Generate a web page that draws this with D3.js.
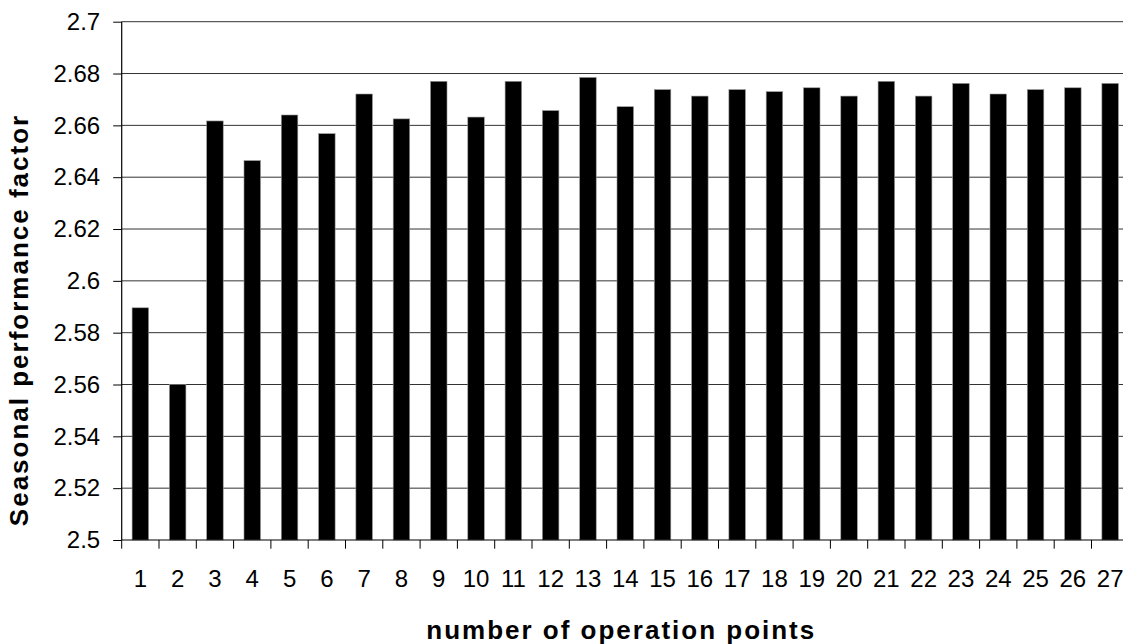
<!DOCTYPE html>
<html>
<head>
<meta charset="utf-8">
<script src="https://cdn.jsdelivr.net/npm/d3@7"></script>
<style>
  html, body { margin: 0; padding: 0; background: #fff; }
  svg { display: block; }
  text { font-family: Arial, "Liberation Sans", sans-serif; fill: #000; }
</style>
</head>
<body>
<svg id="chart" width="1123" height="644"></svg>
<script>
// ---- data ----
const categories = ["1","2","3","4","5","6","7","8","9","10","11","12","13","14","15","16","17","18","19","20","21","22","23","24","25","26","27"];
const spfValues = [2.5896, 2.5600, 2.6617, 2.6464, 2.6640, 2.6568, 2.6721, 2.6625, 2.6770, 2.6632,
                   2.6770, 2.6657, 2.6785, 2.6672, 2.6738, 2.6713, 2.6738, 2.6730, 2.6745, 2.6713,
                   2.6770, 2.6713, 2.6762, 2.6721, 2.6738, 2.6745, 2.6762];
const yTickValues = [2.5, 2.52, 2.54, 2.56, 2.58, 2.6, 2.62, 2.64, 2.66, 2.68, 2.7];
const yTickLabels = ["2.5", "2.52", "2.54", "2.56", "2.58", "2.6", "2.62", "2.64", "2.66", "2.68", "2.7"];
const xTitle = "number of operation points";
const yTitle = "Seasonal performance factor";

// ---- layout ----
const svg = d3.select("#chart");
const plotLeft = 121.7, plotRight = 1128.8, plotTop = 21.7, plotBottom = 540;

const x = d3.scaleBand().domain(categories).range([plotLeft, plotRight])
  .paddingInner(0.557).paddingOuter(0.2785);
const y = d3.scaleLinear().domain([2.5, 2.7]).range([plotBottom, plotTop]);

// gridlines
svg.append("g").selectAll("line").data(yTickValues.filter(v => v > 2.5)).join("line")
  .attr("x1", plotLeft).attr("x2", plotRight)
  .attr("y1", d => y(d)).attr("y2", d => y(d))
  .attr("stroke", "#333").attr("stroke-width", 1);

// bars
svg.append("g").selectAll("rect").data(spfValues).join("rect")
  .attr("x", (d, i) => x(categories[i]))
  .attr("width", x.bandwidth())
  .attr("y", d => y(d))
  .attr("height", d => plotBottom - y(d))
  .attr("fill", "#000")
  .attr("stroke", "#999").attr("stroke-width", 0.6);

// y axis
const yAxis = svg.append("g").attr("transform", `translate(${plotLeft},0)`)
  .call(d3.axisLeft(y).tickValues(yTickValues).tickSize(8.5).tickPadding(13)
    .tickFormat((d, i) => yTickLabels[i]));
yAxis.select(".domain").remove();
yAxis.selectAll(".tick line").attr("stroke", "#000");
yAxis.selectAll(".tick text").attr("font-size", 24).attr("font-family", "Arial, 'Liberation Sans', sans-serif");
svg.append("line").attr("x1", plotLeft).attr("x2", plotLeft).attr("y1", plotTop).attr("y2", plotBottom)
  .attr("stroke", "#000").attr("stroke-width", 1.2);

// x axis
const xAxis = svg.append("g").attr("transform", `translate(0,${plotBottom})`)
  .call(d3.axisBottom(x).tickSize(0).tickPadding(30));
xAxis.select(".domain").remove();
xAxis.selectAll(".tick text").attr("font-size", 24).attr("font-family", "Arial, 'Liberation Sans', sans-serif")
  .attr("dy", 0).attr("y", 46.7);
svg.append("line").attr("x1", plotLeft).attr("x2", plotRight).attr("y1", plotBottom).attr("y2", plotBottom)
  .attr("stroke", "#000").attr("stroke-width", 1.2);
// boundary ticks
const boundaries = categories.map(c => x(c) - x.step() * x.paddingOuter()).concat([plotRight]);
svg.append("g").selectAll("line").data(boundaries).join("line")
  .attr("x1", d => d).attr("x2", d => d)
  .attr("y1", plotBottom).attr("y2", plotBottom + 8.7)
  .attr("stroke", "#000");

// titles
svg.append("text")
  .attr("x", (plotLeft + plotRight) / 2 - 4).attr("y", 639)
  .attr("text-anchor", "middle")
  .attr("font-size", 26).attr("font-weight", "bold").attr("letter-spacing", 2)
  .text(xTitle);
svg.append("text")
  .attr("transform", "translate(28,320) rotate(-90)")
  .attr("text-anchor", "middle")
  .attr("font-size", 26).attr("font-weight", "bold").attr("letter-spacing", 2)
  .text(yTitle);
</script>
</body>
</html>
